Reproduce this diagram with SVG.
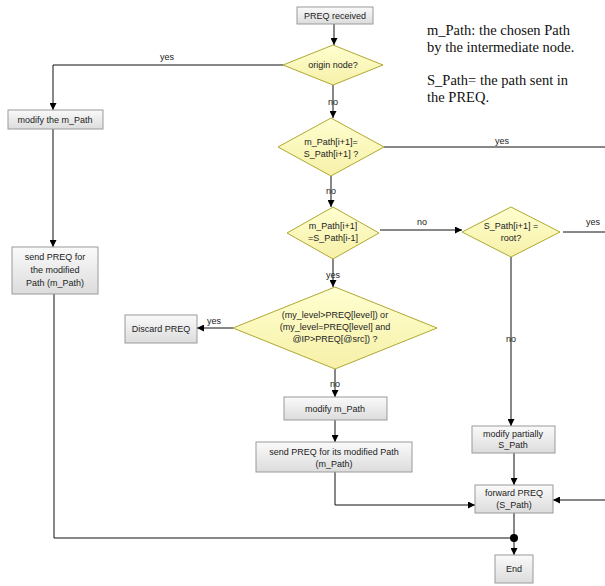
<svg xmlns="http://www.w3.org/2000/svg" width="605" height="586" viewBox="0 0 605 586">
<style>
.box{fill:url(#gbox);stroke:#9a9a9a;stroke-width:1}
.dia{fill:url(#gdia);stroke:#b0a830;stroke-width:1}
.t{font-family:"Liberation Sans",Arial,sans-serif;font-size:9px;fill:#222;text-anchor:middle}
.lbl{font-family:"Liberation Sans",Arial,sans-serif;font-size:9px;fill:#222;text-anchor:middle}
.ann{font-family:"Liberation Serif","Times New Roman",serif;font-size:14.5px;fill:#111}
.c{fill:none;stroke:#111;stroke-width:1}
.ca{fill:none;stroke:#111;stroke-width:1;marker-end:url(#arr)}
</style>
<defs>
<linearGradient id="gbox" x1="0" y1="0" x2="0" y2="1">
<stop offset="0" stop-color="#fafafa"/><stop offset="1" stop-color="#dcdcdc"/>
</linearGradient>
<linearGradient id="gdia" x1="0" y1="0" x2="0" y2="1">
<stop offset="0" stop-color="#ffffd0"/><stop offset="1" stop-color="#f6f0a8"/>
</linearGradient>
<marker id="arr" viewBox="0 0 10 10" refX="10" refY="5" markerWidth="8" markerHeight="7" markerUnits="userSpaceOnUse" orient="auto">
<path d="M0,0 L10,5 L0,10 z" fill="#000"/>
</marker>
</defs>

<g id="connectors">
<path class="ca" d="M334,24 V45"/>
<path class="ca" d="M283,65 H53 V110"/>
<path class="ca" d="M53,129 V247"/>
<path class="c" d="M54,294 V538 H514"/>
<path class="ca" d="M333,85 V118"/>
<path class="c" d="M384,147 H605"/>
<path class="ca" d="M331,176 V207"/>
<path class="ca" d="M380,230 H462"/>
<path class="c" d="M563,232 H605"/>
<path class="ca" d="M511,257 V426"/>
<path class="ca" d="M333,259 V287"/>
<path class="ca" d="M233,328 H197"/>
<path class="ca" d="M335,369 V397"/>
<path class="ca" d="M335,420 V442"/>
<path class="ca" d="M335,472 V505 H475"/>
<path class="ca" d="M514,453 V485"/>
<path class="ca" d="M605,500 H553"/>
<path class="ca" d="M514,513 V555"/>
<circle cx="514" cy="538" r="4" fill="#000"/>
<text class="lbl" x="167" y="60">yes</text>
<text class="lbl" x="333" y="105">no</text>
<text class="lbl" x="502" y="144">yes</text>
<text class="lbl" x="331" y="194">no</text>
<text class="lbl" x="422" y="225">no</text>
<text class="lbl" x="593" y="225">yes</text>
<text class="lbl" x="333" y="278">yes</text>
<text class="lbl" x="511" y="342">no</text>
<text class="lbl" x="214" y="324">yes</text>
<text class="lbl" x="335" y="387">no</text>
</g>

<g id="n-preq-received">
<rect class="box" x="297" y="7" width="76" height="17"/>
<text class="t" x="335" y="19">PREQ received</text>
</g>
<g id="n-origin">
<polygon class="dia" points="283,65 333,45 383,65 333,85"/>
<text class="t" x="333" y="68">origin node?</text>
</g>
<g id="n-modify-the-mpath">
<rect class="box" x="8" y="110" width="95" height="19"/>
<text class="t" x="55" y="123">modify the m_Path</text>
</g>
<g id="n-send-modified">
<rect class="box" x="12" y="247" width="86" height="47"/>
<text class="t" x="55" y="260">send PREQ for</text>
<text class="t" x="55" y="273">the modified</text>
<text class="t" x="55" y="286">Path (m_Path)</text>
</g>
<g id="n-cmp1">
<polygon class="dia" points="278,147 331,118 384,147 331,176"/>
<text class="t" x="331" y="145">m_Path[i+1]=</text>
<text class="t" x="331" y="157">S_Path[i+1] ?</text>
</g>
<g id="n-cmp2">
<polygon class="dia" points="287,233 333,207 379,233 333,259"/>
<text class="t" x="333" y="229">m_Path[i+1]</text>
<text class="t" x="333" y="241">=S_Path[i-1]</text>
</g>
<g id="n-root">
<polygon class="dia" points="462,232 511,207 560,232 511,257"/>
<text class="t" x="511" y="229">S_Path[i+1] =</text>
<text class="t" x="511" y="241">root?</text>
</g>
<g id="n-level">
<polygon class="dia" points="233,328 335,287 437,328 335,369"/>
<text class="t" x="335" y="318">(my_level&gt;PREQ[level]) or</text>
<text class="t" x="335" y="330">(my_level=PREQ[level] and</text>
<text class="t" x="335" y="342">@IP&gt;PREQ[@src]) ?</text>
</g>
<g id="n-discard">
<rect class="box" x="125" y="315" width="72" height="28"/>
<text class="t" x="161" y="332">Discard PREQ</text>
</g>
<g id="n-modify-mpath">
<rect class="box" x="284" y="397" width="103" height="23"/>
<text class="t" x="335" y="412">modify m_Path</text>
</g>
<g id="n-send-its">
<rect class="box" x="256" y="442" width="156" height="30"/>
<text class="t" x="334" y="455">send PREQ for its modified Path</text>
<text class="t" x="334" y="467">(m_Path)</text>
</g>
<g id="n-modify-partially">
<rect class="box" x="472" y="426" width="83" height="27"/>
<text class="t" x="513" y="437">modify partially</text>
<text class="t" x="513" y="448">S_Path</text>
</g>
<g id="n-forward">
<rect class="box" x="475" y="485" width="78" height="28"/>
<text class="t" x="514" y="496">forward PREQ</text>
<text class="t" x="514" y="508">(S_Path)</text>
</g>
<g id="n-end">
<rect class="box" x="495" y="555" width="38" height="28"/>
<text class="t" x="514" y="572">End</text>
</g>
<g id="annotation">
<text class="ann" x="427" y="35">m_Path: the chosen Path</text>
<text class="ann" x="427" y="52">by the intermediate node.</text>
<text class="ann" x="427" y="85">S_Path= the path sent in</text>
<text class="ann" x="427" y="102">the PREQ.</text>
</g>
</svg>
